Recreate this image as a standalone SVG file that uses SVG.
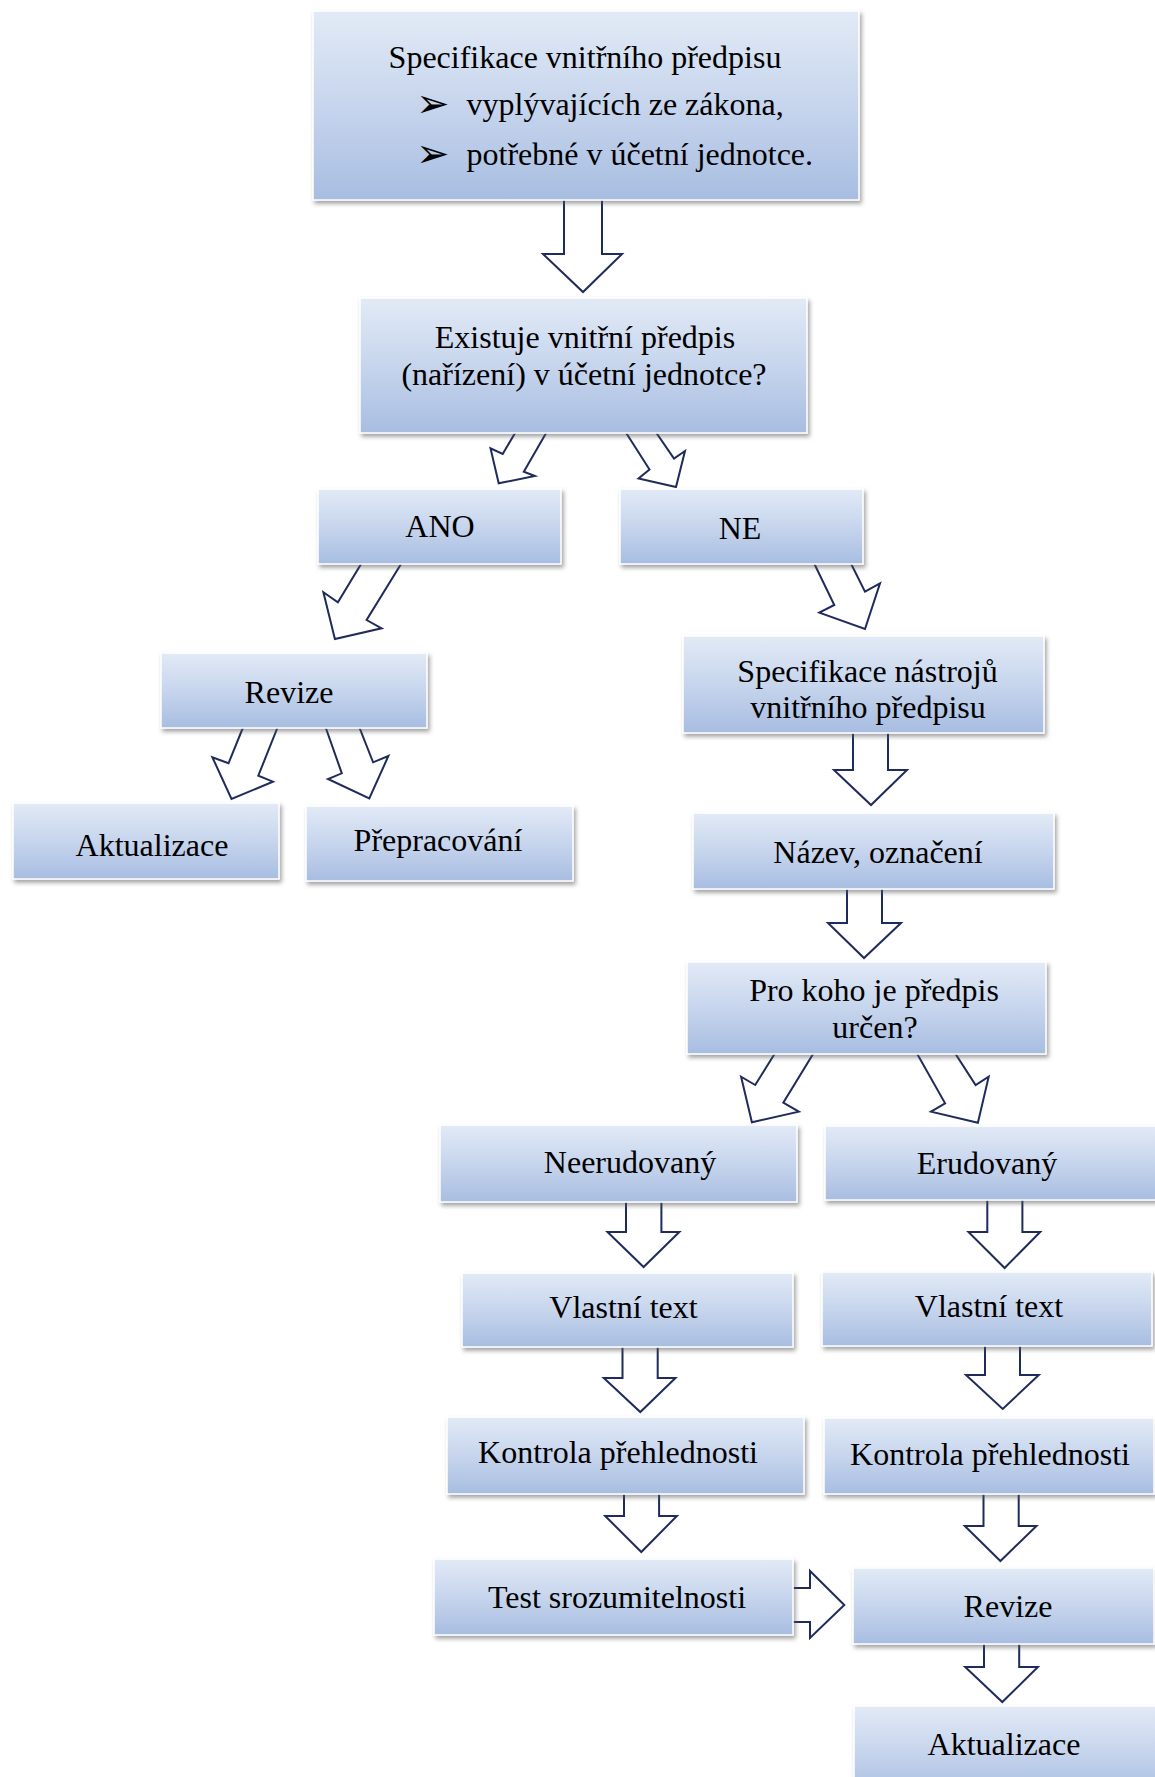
<svg xmlns="http://www.w3.org/2000/svg" width="1155" height="1777" viewBox="0 0 1155 1777">
  <defs>
    <linearGradient id="boxFill" x1="0" y1="0" x2="0" y2="1">
      <stop offset="0" stop-color="#e2eaf6"/>
      <stop offset="0.55" stop-color="#c4d3ec"/>
      <stop offset="1" stop-color="#a7bde1"/>
    </linearGradient>
    <filter id="shadow" x="-10%" y="-10%" width="125%" height="140%">
      <feDropShadow dx="2" dy="3" stdDeviation="2" flood-color="#555555" flood-opacity="0.55"/>
    </filter>
    <style>
      .box { fill: url(#boxFill); stroke: #ffffff; stroke-width: 1.5; filter: url(#shadow); }
      .lbl { font-family: "Liberation Serif", "Times New Roman", serif; font-size: 32px; fill: #000000; text-anchor: middle; }
      .lbl-l { font-family: "Liberation Serif", "Times New Roman", serif; font-size: 32px; fill: #000000; text-anchor: start; }
      .bullet { font-family: "DejaVu Sans", sans-serif; font-size: 40px; fill: #000000; }
      .arrow { fill: #ffffff; stroke: #1f2b5b; stroke-width: 2; stroke-linejoin: miter; }
    </style>
  </defs>

  <rect width="1155" height="1777" fill="#ffffff"/>

  <!-- block arrows (drawn first so the boxes cover the shaft ends) -->
  <g id="connectors">
    <polygon class="arrow" points="564,196 564,254 543,254 583,292 622,254 602,254 602,196"/>
    <polygon class="arrow" points="518,428 502.7,454 490.5,448.3 498.7,483.3 534.9,476 523.8,471.7 549,428"/>
    <polygon class="arrow" points="623,428 649.5,469.5 638.5,478.5 676,487 685,451 674,458.5 653,428"/>
    <polygon class="arrow" points="363.5,560 337.9,602.3 323.4,592.3 334.9,639 381.6,628.3 366.6,620 403.5,560"/>
    <polygon class="arrow" points="244,725 228.5,763.3 212.4,757.3 231.5,799 272.9,781.7 258.3,775.7 278.5,725"/>
    <polygon class="arrow" points="324.8,725 341.8,773.3 328,779 369.3,798.3 388.4,756 373.1,762.3 358.4,725"/>
    <polygon class="arrow" points="812.5,560 834.3,605 819.3,612.7 865,629 880,583.3 865,591.7 849.2,560"/>
    <polygon class="arrow" points="853,728 853,770 834,770 871,805 907,770 888,770 888,728"/>
    <polygon class="arrow" points="847,884 847,923 828,923 864,958 901,923 882,923 882,884"/>
    <polygon class="arrow" points="777,1050 755.2,1085 741.1,1076.7 751.9,1122.3 798.8,1111.7 783.3,1102.7 815.5,1050"/>
    <polygon class="arrow" points="915,1050 945.1,1103.3 931,1111.7 977.9,1122.7 988.7,1076.7 975.6,1085 953,1050"/>
    <polygon class="arrow" points="626,1197 626,1232 607.5,1232 643.6,1267 679.3,1232 661.4,1232 661.4,1197"/>
    <polygon class="arrow" points="987.3,1195 987.3,1232 968.5,1232 1004.6,1268 1040.2,1232 1022.4,1232 1022.4,1195"/>
    <polygon class="arrow" points="622.5,1342 622.5,1378 603.8,1378 640.3,1412 675.5,1378 657.7,1378 657.7,1342"/>
    <polygon class="arrow" points="985,1341 985,1375 966,1375 1002.7,1409 1038.8,1375 1020,1375 1020,1341"/>
    <polygon class="arrow" points="624,1489 624,1516 605.2,1516 641.3,1552 676.9,1516 659.1,1516 659.1,1489"/>
    <polygon class="arrow" points="983.5,1489 983.5,1526 964.8,1526 1000.4,1561 1036.5,1526 1018.7,1526 1018.7,1489"/>
    <polygon class="arrow" points="788,1588 810,1588 810,1571 844.3,1605 810,1638 810,1622 788,1622"/>
    <polygon class="arrow" points="984,1639 984,1667 965.2,1667 1002.3,1702 1037.9,1667 1019.2,1667 1019.2,1639"/>
  </g>

  <!-- nodes -->
  <g id="node-spec">
    <rect class="box" x="313" y="11" width="546" height="189"/>
    <text class="lbl" x="585" y="68">Specifikace vnitřního předpisu</text>
    <text class="bullet" x="416" y="117">➢</text>
    <text class="lbl-l" x="466.5" y="115">vyplývajících ze zákona,</text>
    <text class="bullet" x="416" y="167">➢</text>
    <text class="lbl-l" x="466.5" y="165">potřebné v účetní jednotce.</text>
  </g>

  <g id="node-existuje">
    <rect class="box" x="360" y="298" width="447" height="135"/>
    <text class="lbl" x="585" y="348">Existuje vnitřní předpis</text>
    <text class="lbl" x="584" y="385">(nařízení) v účetní jednotce?</text>
  </g>

  <g id="node-ano">
    <rect class="box" x="318" y="489" width="243" height="75"/>
    <text class="lbl" x="440" y="537">ANO</text>
  </g>

  <g id="node-ne">
    <rect class="box" x="620" y="489" width="243" height="75"/>
    <text class="lbl" x="740" y="539">NE</text>
  </g>

  <g id="node-revize-1">
    <rect class="box" x="161" y="653" width="266" height="75"/>
    <text class="lbl" x="289" y="703">Revize</text>
  </g>

  <g id="node-aktualizace-1">
    <rect class="box" x="13" y="803" width="266" height="76"/>
    <text class="lbl" x="152" y="856">Aktualizace</text>
  </g>

  <g id="node-prepracovani">
    <rect class="box" x="306" y="806" width="267" height="75"/>
    <text class="lbl" x="438" y="851">Přepracování</text>
  </g>

  <g id="node-nastroje">
    <rect class="box" x="683" y="636" width="361" height="97"/>
    <text class="lbl" x="867.5" y="682">Specifikace nástrojů</text>
    <text class="lbl" x="868" y="718">vnitřního předpisu</text>
  </g>

  <g id="node-nazev">
    <rect class="box" x="693" y="813" width="361" height="76"/>
    <text class="lbl" x="878" y="863">Název, označení</text>
  </g>

  <g id="node-pro-koho">
    <rect class="box" x="687" y="962" width="359" height="92"/>
    <text class="lbl" x="874" y="1001">Pro koho je předpis</text>
    <text class="lbl" x="875" y="1038">určen?</text>
  </g>

  <g id="node-neerudovany">
    <rect class="box" x="440" y="1125" width="357" height="77"/>
    <text class="lbl" x="630" y="1173">Neerudovaný</text>
  </g>

  <g id="node-erudovany">
    <rect class="box" x="825" y="1126" width="345" height="74"/>
    <text class="lbl" x="987" y="1174">Erudovaný</text>
  </g>

  <g id="node-text-l">
    <rect class="box" x="462" y="1273" width="331" height="74"/>
    <text class="lbl" x="623.5" y="1318">Vlastní text</text>
  </g>

  <g id="node-text-r">
    <rect class="box" x="822" y="1272" width="330" height="74"/>
    <text class="lbl" x="989" y="1317">Vlastní text</text>
  </g>

  <g id="node-kontrola-l">
    <rect class="box" x="447" y="1417" width="357" height="77"/>
    <text class="lbl" x="618" y="1463">Kontrola přehlednosti</text>
  </g>

  <g id="node-kontrola-r">
    <rect class="box" x="824" y="1418" width="330" height="76"/>
    <text class="lbl" x="990" y="1465">Kontrola přehlednosti</text>
  </g>

  <g id="node-test">
    <rect class="box" x="434" y="1559" width="359" height="76"/>
    <text class="lbl" x="617" y="1608">Test srozumitelnosti</text>
  </g>

  <g id="node-revize-2">
    <rect class="box" x="853" y="1568" width="301" height="76"/>
    <text class="lbl" x="1008" y="1617">Revize</text>
  </g>

  <g id="node-aktualizace-2">
    <rect class="box" x="854" y="1706" width="320" height="90"/>
    <text class="lbl" x="1004" y="1755">Aktualizace</text>
  </g>
</svg>
